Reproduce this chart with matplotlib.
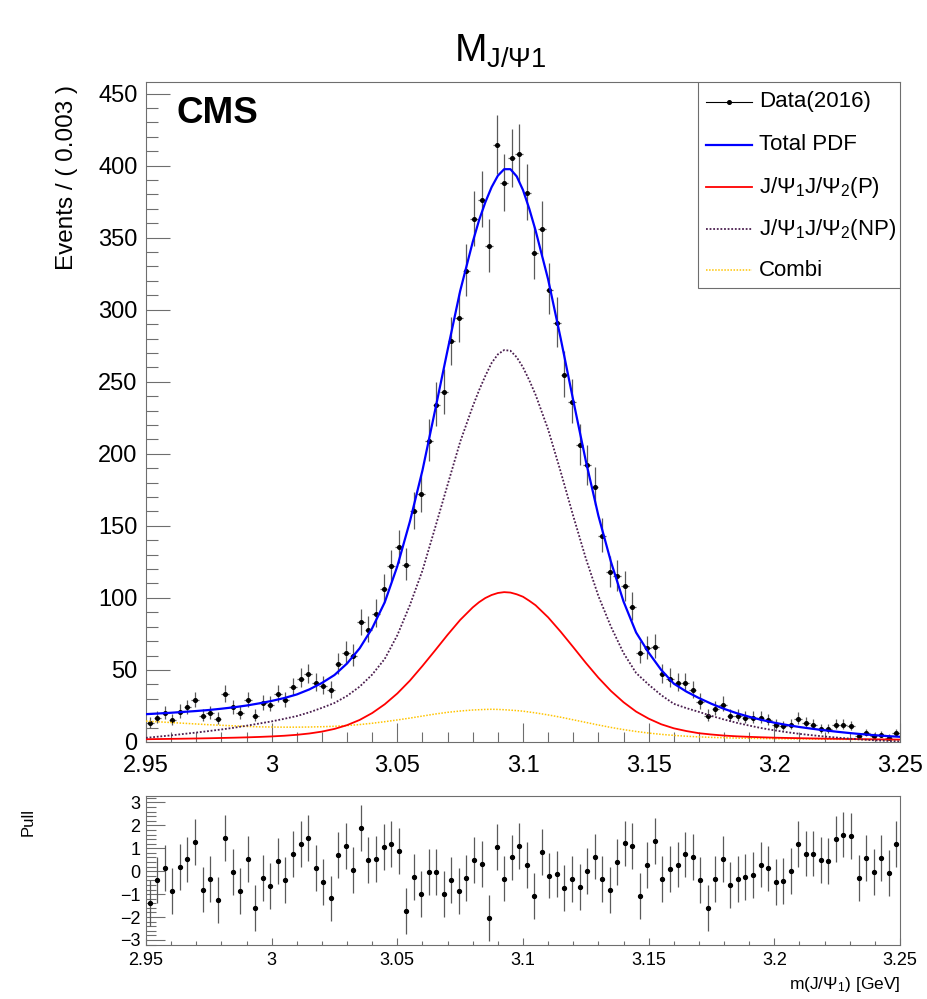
import numpy as np
import matplotlib
matplotlib.use('Agg')
import matplotlib.pyplot as plt
from matplotlib.patches import Rectangle
from matplotlib.lines import Line2D
from matplotlib.ticker import MultipleLocator, FuncFormatter

plt.rcParams['font.family'] = ['Liberation Sans', 'DejaVu Sans']
plt.rcParams['mathtext.fontset'] = 'custom'
plt.rcParams['mathtext.rm'] = 'Liberation Sans'
plt.rcParams['mathtext.it'] = 'Liberation Sans:italic'
plt.rcParams['mathtext.bf'] = 'Liberation Sans:bold'

# ---------------- data ----------------
x_lo, x_hi, n_bins = 2.95, 3.25, 100
bin_width = 0.003

counts = [13, 17, 20, 15, 21, 24, 29, 18, 20, 16,
          33, 24, 20, 29, 18, 27, 26, 33, 29, 38,
          44, 47, 41, 39, 36, 54, 62, 60, 83, 78,
          89, 106, 122, 135, 123, 160, 172, 209, 234, 243,
          278, 294, 327, 363, 376, 344, 414, 388, 405, 408,
          381, 339, 356, 314, 291, 255, 236, 206, 192, 177,
          143, 118, 115, 108, 94, 62, 65, 66, 47, 44,
          41, 41, 36, 28, 18, 23, 26, 18, 18, 17,
          17, 17, 15, 12, 11, 12, 16, 13, 12, 9,
          9, 12, 12, 11, 4, 6, 4, 5, 3, 6]

pulls = [-1.40, -0.37, 0.15, -0.88, 0.19, 0.51, 1.27, -0.80, -0.35, -1.24,
         1.44, -0.02, -0.87, 0.54, -1.59, -0.31, -0.65, 0.44, -0.40, 0.75,
         1.20, 1.44, 0.15, -0.48, -1.19, 0.72, 1.10, 0.04, 1.88, 0.47,
         0.55, 1.04, 1.19, 0.87, -1.72, -0.27, -1.01, -0.04, -0.04, -1.01,
         -0.40, -0.87, -0.31, 0.50, 0.32, -2.05, 1.07, -0.32, 0.60, 1.10,
         0.27, -1.07, 0.85, -0.19, -0.12, -0.74, -0.34, -0.70, 0.02, 0.64,
         -0.34, -0.83, 0.41, 1.21, 1.10, -1.08, 0.27, 1.30, -0.34, 0.09,
         0.29, 0.73, 0.61, -0.37, -1.62, -0.34, 0.52, -0.61, -0.34, -0.25,
         -0.18, 0.29, 0.12, -0.47, -0.44, -0.01, 1.20, 0.77, 0.77, 0.48,
         0.44, 1.41, 1.60, 1.54, -0.29, 0.57, -0.02, 0.57, -0.08, 1.20]

# fitted curves, sampled along curve_x (denser around the peak)
curve_x = [2.950, 2.955, 2.960, 2.965, 2.970, 2.975, 2.980, 2.985, 2.990, 2.995,
           3.000, 3.005, 3.010, 3.015, 3.020, 3.025, 3.030, 3.035, 3.040, 3.045,
           3.050, 3.055, 3.060, 3.065, 3.070, 3.075, 3.080, 3.0825, 3.085, 3.0875,
           3.090, 3.0925, 3.095, 3.0975, 3.100, 3.1025, 3.105, 3.110, 3.115, 3.120,
           3.125, 3.130, 3.135, 3.140, 3.145, 3.150, 3.155, 3.160, 3.165, 3.170,
           3.175, 3.180, 3.185, 3.190, 3.195, 3.200, 3.205, 3.210, 3.215, 3.220,
           3.225, 3.230, 3.235, 3.240, 3.245, 3.250]

total_pdf = [19.3, 19.8, 20.3, 20.9, 21.5, 22.2, 23.1, 24.1, 25.3, 26.8,
             28.5, 30.5, 33.0, 36.5, 41.0, 46.5, 54.5, 65.0, 79.0, 97.0,
             122.0, 153.0, 188.5, 230.0, 272.0, 313.0, 347.0, 362.0, 374.5, 385.0,
             393.0, 397.5, 397.5, 392.5, 383.0, 370.0, 355.0, 321.0, 280.0, 237.0,
             195.0, 157.0, 125.0, 97.5, 76.0, 62.0, 50.0, 40.5, 35.0, 30.5,
             26.5, 23.0, 20.0, 17.5, 15.3, 13.4, 11.8, 10.4, 9.2, 8.1,
             7.1, 6.2, 5.4, 4.7, 4.1, 3.6]

prompt_pdf = [1.93, 2.05, 2.17, 2.30, 2.45, 2.60, 2.80, 2.99, 3.22, 3.51,
              3.87, 4.34, 4.99, 5.91, 7.22, 9.09, 11.7, 15.3, 20.1, 26.2,
              33.7, 42.6, 52.8, 63.5, 74.4, 84.7, 93.4, 97.0, 99.9, 102.0,
              103.4, 104.0, 103.7, 102.5, 100.8, 98.0, 94.9, 86.5, 76.5, 65.8,
              54.9, 44.6, 35.4, 27.6, 21.1, 16.2, 12.3, 9.5, 7.6, 6.1,
              5.2, 4.45, 3.95, 3.57, 3.27, 3.0, 2.81, 2.64, 2.48, 2.33,
              2.19, 2.07, 1.96, 1.85, 1.75, 1.66]

nonprompt_pdf = [2.9, 3.75, 4.6, 5.6, 6.55, 7.6, 8.7, 9.9, 11.3, 12.8,
                 14.3, 16.1, 18.0, 20.6, 23.7, 27.1, 32.0, 38.4, 46.8, 57.7,
                 74.1, 95.0, 119.0, 148.5, 178.5, 208.3, 232.9, 244.0, 254.0, 263.0,
                 269.0, 272.0, 271.5, 267.0, 260.0, 251.0, 241.0, 216.9, 187.5, 156.8,
                 127.4, 101.3, 80.0, 61.7, 47.9, 39.8, 32.5, 26.5, 23.5, 20.9,
                 18.1, 15.6, 13.35, 11.4, 9.6, 8.1, 6.8, 5.66, 4.7, 3.8,
                 3.06, 2.33, 1.7, 1.15, 0.75, 0.4]

combi_pdf = [14.5, 14.0, 13.5, 13.0, 12.5, 12.0, 11.6, 11.2, 10.8, 10.5,
             10.4, 10.3, 10.3, 10.4, 10.6, 10.9, 11.4, 12.1, 13.0, 14.1,
             15.3, 16.6, 18.0, 19.4, 20.6, 21.5, 22.2, 22.4, 22.6, 22.7,
             22.6, 22.4, 22.1, 21.8, 21.4, 20.8, 20.2, 18.8, 17.2, 15.4,
             13.6, 11.8, 10.1, 8.6, 7.3, 6.2, 5.3, 4.6, 4.0, 3.55,
             3.2, 2.95, 2.7, 2.55, 2.4, 2.3, 2.2, 2.1, 2.0, 1.95,
             1.85, 1.8, 1.75, 1.7, 1.6, 1.55]

legend_labels = ['Data(2016)', 'Total PDF',
                 r'J/$\Psi_{1}$J/$\Psi_{2}$(P)',
                 r'J/$\Psi_{1}$J/$\Psi_{2}$(NP)', 'Combi']

# ---------------- figure ----------------
W, H = 928, 999
fig = plt.figure(figsize=(W / 100, H / 100), dpi=100)

def rect(l, t, r, b):
    return [l / W, 1 - b / H, (r - l) / W, (b - t) / H]

ax = fig.add_axes(rect(146, 82, 900, 742))
axp = fig.add_axes(rect(146, 796, 900, 945))

frame_col = '#6e6e6e'
centers = x_lo + bin_width * (np.arange(n_bins) + 0.5)
c = np.array(counts, dtype=float)
err_lo = np.sqrt(c + 0.25) - 0.5
err_hi = np.sqrt(c + 0.25) + 0.5

ax.errorbar(centers, c, yerr=[err_lo, err_hi], xerr=bin_width / 2,
            fmt='o', ms=2.6, color='black', ecolor='#5a5a5a',
            elinewidth=0.9, capsize=0, zorder=2)

ax.plot(curve_x, combi_pdf, color='#ffc400', lw=1.1, ls=(0, (1, 1)), zorder=3)
ax.plot(curve_x, prompt_pdf, color='#ff0000', lw=1.3, zorder=3)
ax.plot(curve_x, nonprompt_pdf, color='#4b1f4f', lw=1.3, ls=(0, (1, 1)), zorder=3)
ax.plot(curve_x, total_pdf, color='#0000ff', lw=1.6, zorder=4)

ax.set_xlim(x_lo, x_hi)
ax.set_ylim(0, 458)

fmt = FuncFormatter(lambda v, p: '%g' % round(v, 4))
for a in (ax, axp):
    a.xaxis.set_major_locator(MultipleLocator(0.05))
    a.xaxis.set_minor_locator(MultipleLocator(0.01))
    a.xaxis.set_major_formatter(fmt)
    for s in a.spines.values():
        s.set_color(frame_col)
        s.set_linewidth(0.8)

ax.yaxis.set_major_locator(MultipleLocator(50))
ax.yaxis.set_minor_locator(MultipleLocator(10))
ax.tick_params(axis='y', which='major', direction='in', length=17, width=0.8,
               colors=frame_col, labelcolor='black', labelsize=17, pad=6)
ax.tick_params(axis='y', which='minor', direction='in', length=8.5, width=0.8,
               colors=frame_col)
ax.tick_params(axis='x', which='major', direction='in', length=14, width=0.8,
               colors=frame_col, labelcolor='black', labelsize=17, pad=9)
ax.tick_params(axis='x', which='minor', direction='in', length=7, width=0.8,
               colors=frame_col)

fig.text(67 / W, 1 - 178 / H, 'Events / ( 0.003 )', rotation=90,
         ha='center', va='center', fontsize=17.5)

ax.text((177 - 146) / 754, (742 - 123) / 660, 'CMS', transform=ax.transAxes,
        fontsize=26.5, fontweight='bold', ha='left', va='baseline')

fig.text(500 / W, 1 - 62 / H, r'M$_{\mathregular{J/\Psi1}}$',
         ha='center', va='baseline', fontsize=28)

# legend (drawn manually in ROOT style)
def axx(px):
    return (px - 146) / 754

def axy(py):
    return (742 - py) / 660

ax.add_patch(Rectangle((axx(698), axy(288)), axx(900) - axx(698),
                       axy(82) - axy(288), transform=ax.transAxes,
                       facecolor='white', edgecolor=frame_col, lw=0.8, zorder=6))
rows = [102, 145, 187, 229, 270]
styles = [dict(color='black', lw=0.8),
          dict(color='#0000ff', lw=1.6),
          dict(color='#ff0000', lw=1.3),
          dict(color='#4b1f4f', lw=1.3, ls=(0, (1, 1))),
          dict(color='#ffc400', lw=1.1, ls=(0, (1, 1)))]
for py, st, lab in zip(rows, styles, legend_labels):
    ax.add_line(Line2D([axx(706), axx(752)], [axy(py), axy(py)],
                       transform=ax.transAxes, zorder=7, **st))
    ax.text(axx(759), axy(py), lab, transform=ax.transAxes,
            fontsize=16, ha='left', va='center', zorder=7)
ax.plot([axx(729)], [axy(rows[0])], 'o', ms=2.6, color='black',
        transform=ax.transAxes, zorder=8)

# pull panel
axp.errorbar(centers, pulls, yerr=1.0, fmt='o', ms=2.8, color='black',
             ecolor='#5a5a5a', elinewidth=0.9, capsize=0)
axp.set_xlim(x_lo, x_hi)
axp.set_ylim(-3.22, 3.28)
axp.yaxis.set_major_locator(MultipleLocator(1))
axp.yaxis.set_minor_locator(MultipleLocator(0.2))
axp.yaxis.set_major_formatter(FuncFormatter(lambda v, p: ('\u2212%d' % -v) if v < 0 else '%d' % v))
axp.tick_params(axis='y', which='major', direction='in', length=14, width=0.8,
                colors=frame_col, labelcolor='black', labelsize=13, pad=4)
axp.tick_params(axis='y', which='minor', direction='in', length=7, width=0.8,
                colors=frame_col)
axp.tick_params(axis='x', which='major', direction='in', length=5, width=0.8,
                colors=frame_col, labelcolor='black', labelsize=13, pad=5)
axp.tick_params(axis='x', which='minor', direction='in', length=3, width=0.8,
                colors=frame_col)

fig.text(28 / W, 1 - 822 / H, 'Pull', rotation=90, ha='center', va='center',
         fontsize=12)
fig.text(900 / W, 1 - 985 / H, r'm(J/$\Psi_{1}$) [GeV]', ha='right',
         va='center', fontsize=12.5)

fig.savefig('out.png', dpi=100)
